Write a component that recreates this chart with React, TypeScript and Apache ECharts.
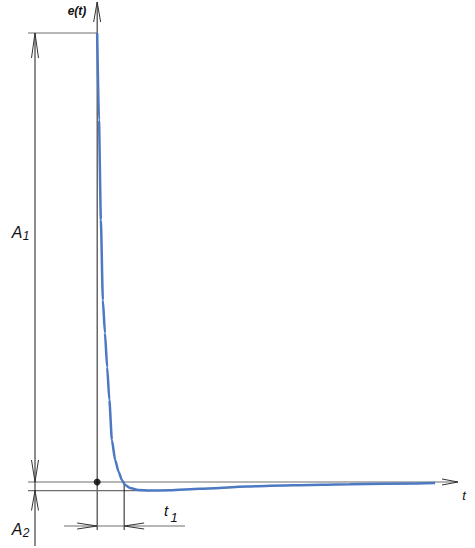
import React, { useEffect, useRef } from "react";
import * as echarts from "echarts";

// Curve e(t): time in units of t1, amplitude in % of A1
const T = [0, 0.067, 0.137, 0.211, 0.289, 0.37, 0.452, 0.545, 0.667, 0.797, 0.915, 1.037, 1.22, 1.52, 1.96, 2.7, 3.81, 5.56, 7.26, 9.37, 11.85, 12.52];
const E = [100, 80.6, 58.4, 40.5, 33.2, 25.6, 18.3, 9.35, 4.9, 2.23, 0.45, -0.67, -1.34, -1.78, -1.89, -1.85, -1.51, -1.0, -0.71, -0.49, -0.31, -0.25];

// Characteristic values
const A1 = 100;
const A2 = -1.9;
const T1 = 1;

// Axis ranges
const X_MIN = -3.6, X_MAX = 14.0;
const Y_MIN = -14.7, Y_MAX = 107.35;
const W = 475, H = 548;
const DT = (X_MAX - X_MIN) / W; // data per px (t)
const DE = (Y_MAX - Y_MIN) / H; // data per px (e)

type P = [number, number];

function arrow(tip: P, dir: "up" | "down" | "left" | "right", len: number, half: number): P[] {
  const [t, e] = tip;
  if (dir === "up") return [[t - half * DT, e - len * DE], [t, e], [t + half * DT, e - len * DE]];
  if (dir === "down") return [[t - half * DT, e + len * DE], [t, e], [t + half * DT, e + len * DE]];
  if (dir === "right") return [[t - len * DT, e - half * DE], [t, e], [t - len * DT, e + half * DE]];
  return [[t + len * DT, e - half * DE], [t, e], [t + len * DT, e + half * DE]];
}

function seg(points: P[], color: string, width = 1, z = 2) {
  return {
    type: "line",
    data: points,
    showSymbol: false,
    symbol: "none",
    silent: true,
    lineStyle: { color, width },
    z,
    animation: false,
  };
}

export default function App() {
  const ref = useRef<HTMLDivElement>(null);
  useEffect(() => {
    if (!ref.current) return;
    const chart = echarts.init(ref.current, undefined, { renderer: "svg" });

    const leftT = X_MIN + 28 * DT;
    const dimT = X_MIN + 35 * DT;
    const axisTopE = Y_MAX - 2 * DE;
    const axisBotE = Y_MAX - 530 * DE;
    const axisEndT = X_MIN + 458 * DT;
    const dimBotE = Y_MAX - 546 * DE;
    const t1DimE = Y_MAX - 526 * DE;
    const gray = "#6e6e6e";
    const dark = "#1a1a1a";
    const arrowC = "#333";

    const series: any[] = [
      // y axis
      seg([[0, axisTopE], [0, axisBotE]], dark, 1),
      seg(arrow([0, axisTopE], "up", 20, 3.5), arrowC, 1),
      // x axis
      seg([[leftT, 0], [axisEndT, 0]], gray, 1.2),
      seg(arrow([axisEndT, 0], "right", 16, 3), arrowC, 1),
      // A2 extension line
      seg([[leftT, A2], [T[14], A2]], gray, 1.2),
      // A1 extension line
      seg([[leftT, A1], [0, A1]], gray, 1),
      // dimension line for A1/A2
      seg([[dimT, A1], [dimT, dimBotE]], dark, 1),
      seg(arrow([dimT, A1], "up", 25, 3.5), arrowC, 1),
      seg(arrow([dimT, 0], "down", 22, 3.5), arrowC, 1),
      seg(arrow([dimT, A2], "up", 20, 3.5), arrowC, 1),
      // t1 extension & dimension
      seg([[T1, 0], [T1, axisBotE]], dark, 1),
      seg([[X_MIN + 64 * DT, t1DimE], [X_MIN + 185 * DT, t1DimE]], gray, 1.2),
      seg(arrow([0, t1DimE], "right", 20, 3), arrowC, 1),
      seg(arrow([T1, t1DimE], "left", 20, 3), arrowC, 1),
      // curve
      {
        type: "line",
        data: T.map((t, i) => [t, E[i]]),
        showSymbol: false,
        symbol: "none",
        smooth: 0.2,
        smoothMonotone: "x",
        lineStyle: { color: "#4d78c2", width: 2.5 },
        z: 5,
      },
      // origin dot
      {
        type: "scatter",
        data: [[0, 0]],
        symbolSize: 7,
        itemStyle: { color: "#000" },
        z: 6,
      },
    ];

    const font = "Liberation Sans";
    const txt = (text: string, x: number, y: number, size: number, weight = "normal") => ({
      type: "text",
      x,
      y,
      style: {
        text,
        fill: "#111",
        fontFamily: font,
        fontStyle: "italic",
        fontWeight: weight,
        fontSize: size,
        align: "center",
        verticalAlign: "middle",
      },
    });

    chart.setOption({
      animation: false,
      backgroundColor: "#fff",
      grid: { left: 0, right: 0, top: 0, bottom: 0, containLabel: false },
      xAxis: { type: "value", min: X_MIN, max: X_MAX, show: false },
      yAxis: { type: "value", min: Y_MIN, max: Y_MAX, show: false },
      series,
      graphic: [
        txt("e(t)", 77, 11, 12, "bold"),
        txt("A", 17, 232, 16),
        txt("1", 26, 236, 12),
        txt("A", 17, 529, 16),
        txt("2", 26, 533, 12),
        txt("t", 166, 510, 15),
        txt("1", 174, 517, 13),
        txt("t", 464, 495, 13),
      ],
    });
    return () => chart.dispose();
  }, []);
  return (
    <div
      ref={ref}
      style={{ position: "fixed", left: 0, top: 0, width: 475, height: 548, background: "#fff" }}
    />
  );
}
